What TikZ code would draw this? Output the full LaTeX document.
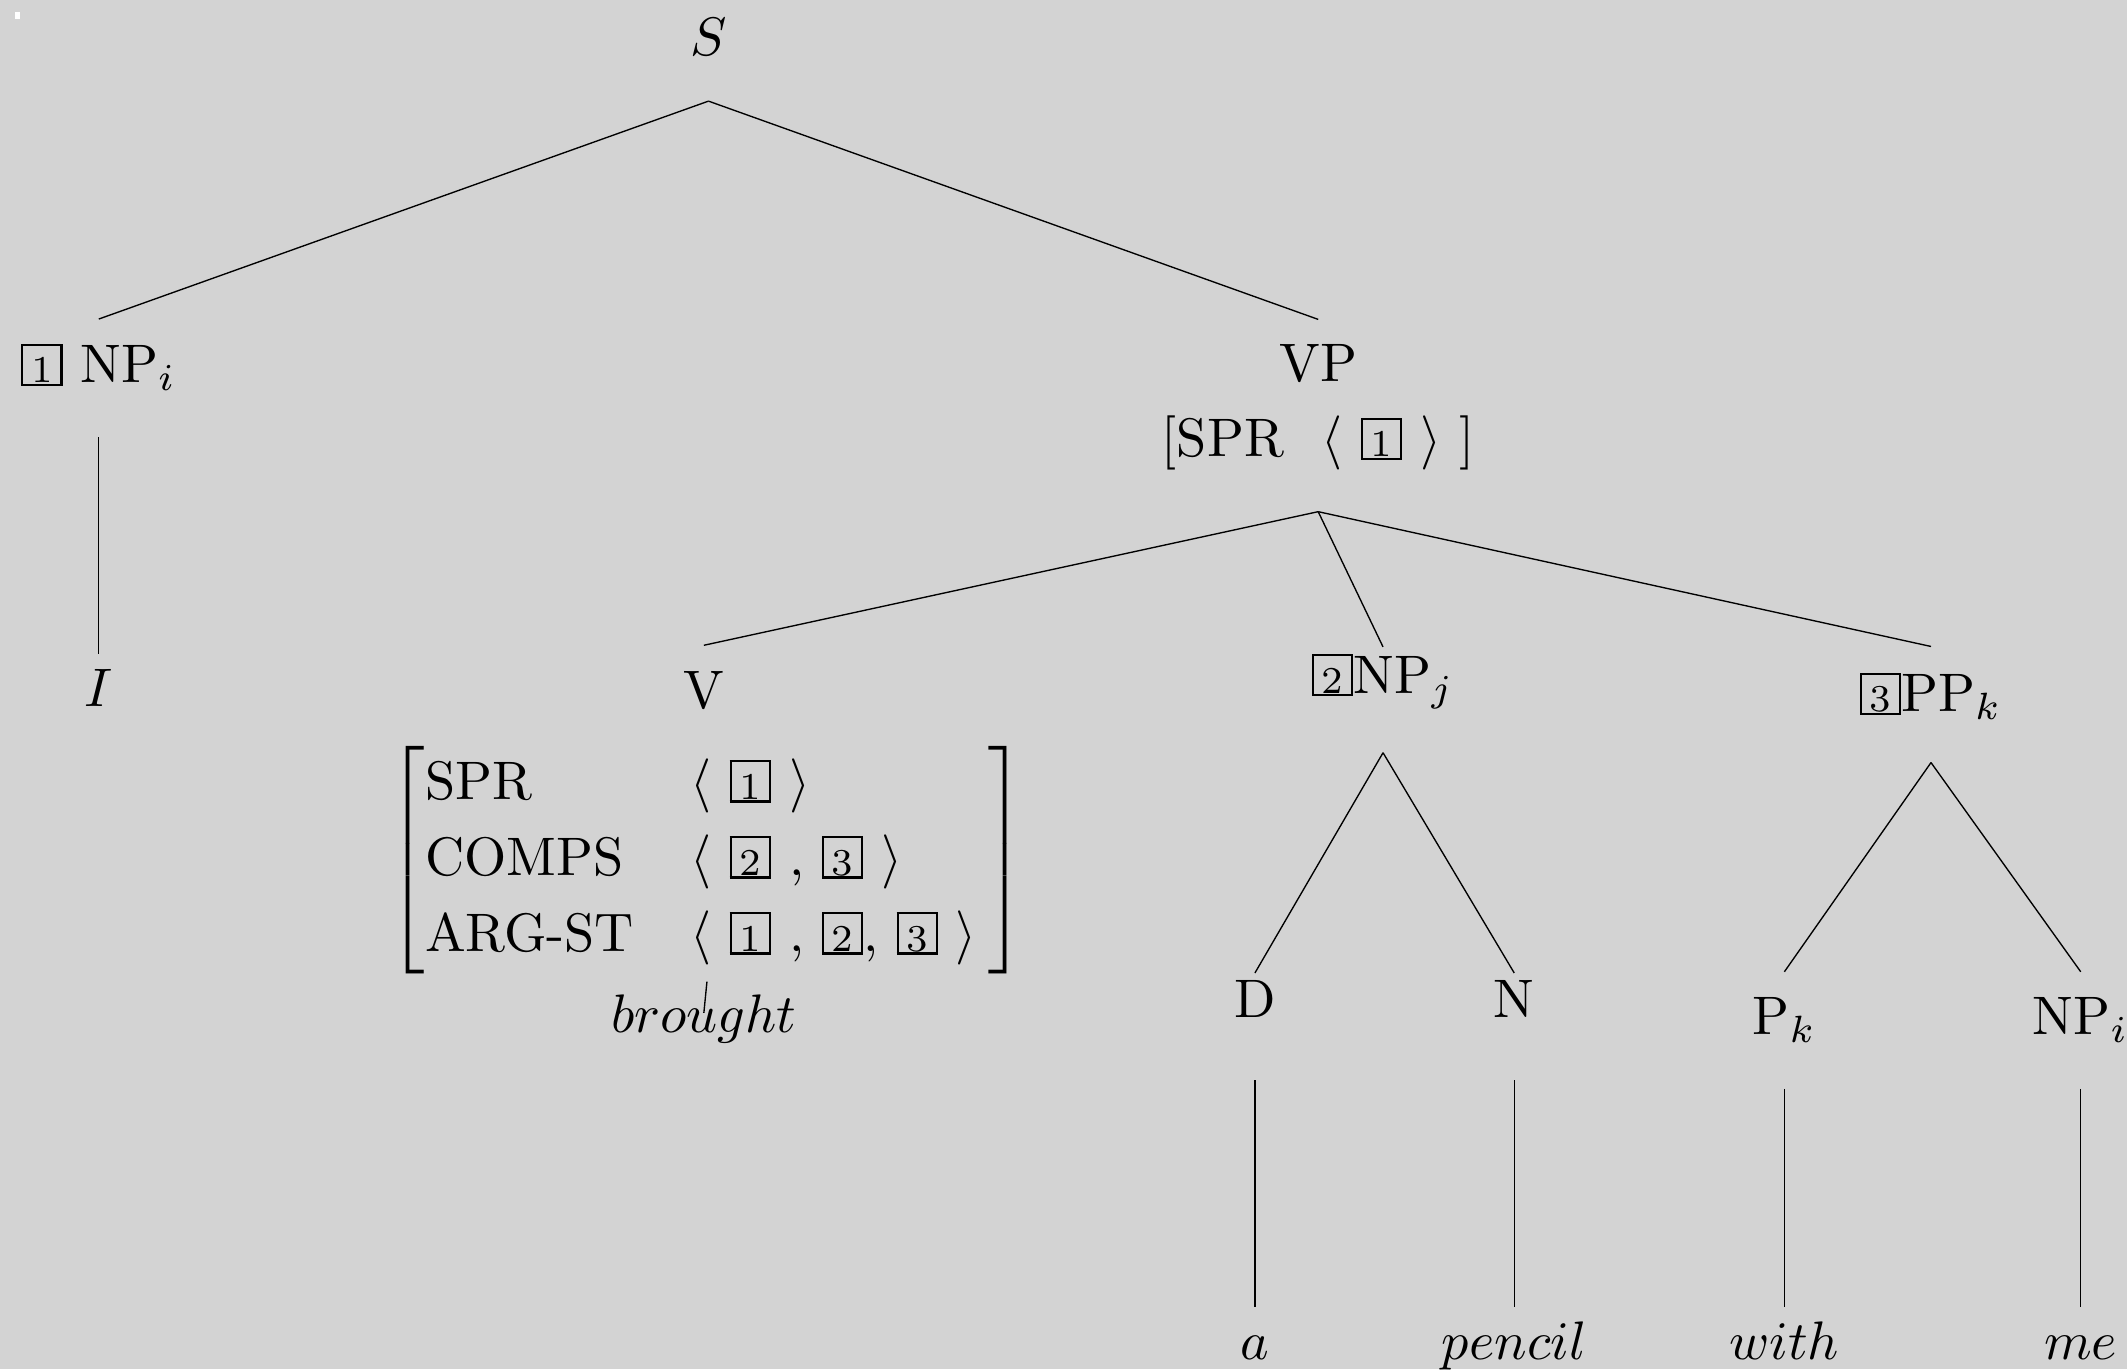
\documentclass[tikz,border=0pt]{standalone}
\usepackage[usenames,dvipsnames]{xcolor}
\usepackage{amsmath}

\definecolor{paper}{HTML}{D3D3D3}
\newcommand{\tagbox}[1]{{\setlength{\fboxsep}{0pt}\fbox{\makebox[6.8pt]{\rule[-.2pt]{0pt}{7pt}\scriptsize #1}}}}

\begin{document}
\begin{tikzpicture}[cat/.style={anchor=base, inner ysep=0pt, outer sep=0pt},
                    branch/.style={draw=black, line width=0.25pt}]
      \fill [paper] (0,0) rectangle (13.78,-8.87);
      \useasboundingbox (0,0) rectangle (13.78,-8.87);
      \fill [white] (0.10,-0.08) rectangle (0.13,-0.12);

      % top of the tree
      \node [cat, text height=7pt, text depth=8.4pt] (S) at (4.59,-0.36) {$S$};
      \node [cat, text height=11.75pt, text depth=10pt] (NPi) at (0.64,-2.48) {\tagbox{1} NP$_i$};
      \node [cat, text height=9.75pt, text depth=0pt] (I) at (0.64,-4.58) {$I$};
      \node [cat, text height=11.4pt, text depth=3pt] (VP) at (8.54,-2.47) {VP};
      \node [cat, text height=7pt, text depth=10.1pt] (VPf) at (8.54,-2.96) {[SPR\hspace{7pt}$\langle$ \tagbox{1} $\rangle$ ]};

      % verb and its features
      \node [cat, text height=11.65pt, text depth=0pt] (V) at (4.56,-4.59) {V};
      \node [cat, text height=23.6pt, text depth=19.9pt] (avm) at (4.58,-5.66) {\renewcommand{\arraystretch}{1.167}%
        $\left[\begin{tabular}{@{}l@{\hspace{10.4pt}}l@{\hspace{2.2pt}}}
          SPR & $\langle$ \tagbox{1} $\rangle$\\
          COMPS & $\langle$ \tagbox{2} , \tagbox{3} $\rangle$\\
          ARG-ST & $\langle$ \tagbox{1} , \tagbox{2}, \tagbox{3} $\rangle$
        \end{tabular}\right]$};
      \node [cat, text height=3.65pt, text depth=2pt] (brought) at (4.56,-6.69) {$brought$};

      % complements
      \node [cat, text height=8.5pt, text depth=11pt] (NPj) at (8.96,-4.49) {\tagbox{2}NP$_j$};
      \node [cat, text height=12pt, text depth=9.4pt] (PPk) at (12.51,-4.61) {\tagbox{3}PP$_k$};
      \node [cat, text height=8.15pt, text depth=11.6pt] (D) at (8.13,-6.59) {D};
      \node [cat, text height=8.15pt, text depth=11.6pt] (N) at (9.81,-6.59) {N};
      \node [cat, text height=11.5pt, text depth=10.1pt] (Pk) at (11.56,-6.70) {P$_k$};
      \node [cat, text height=11.5pt, text depth=10.1pt] (NPi2) at (13.48,-6.70) {NP$_i$};

      % words
      \node [cat, text height=9.75pt, text depth=0pt] (a) at (8.13,-8.81) {$a$};
      \node [cat, text height=9.75pt, text depth=0pt] (pencil) at (9.81,-8.81) {$pencil$};
      \node [cat, text height=9.75pt, text depth=0pt] (with) at (11.56,-8.81) {$with$};
      \node [cat, text height=9.75pt, text depth=0pt] (me) at (13.48,-8.81) {$me$};

      \draw [branch] (S.south) -- (NPi.north);
      \draw [branch] (S.south) -- (VP.north);
      \draw [branch] (NPi.south) -- (I.north);
      \draw [branch] (VPf.south) -- (V.north);
      \draw [branch] (VPf.south) -- (NPj.north);
      \draw [branch] (VPf.south) -- (PPk.north);
      \draw [branch] (avm.south) -- (brought.north);
      \draw [branch] (NPj.south) -- (D.north);
      \draw [branch] (NPj.south) -- (N.north);
      \draw [branch] (PPk.south) -- (Pk.north);
      \draw [branch] (PPk.south) -- (NPi2.north);
      \draw [branch] (D.south) -- (a.north);
      \draw [branch] (N.south) -- (pencil.north);
      \draw [branch] (Pk.south) -- (with.north);
      \draw [branch] (NPi2.south) -- (me.north);
    \end{tikzpicture}
\end{document}
